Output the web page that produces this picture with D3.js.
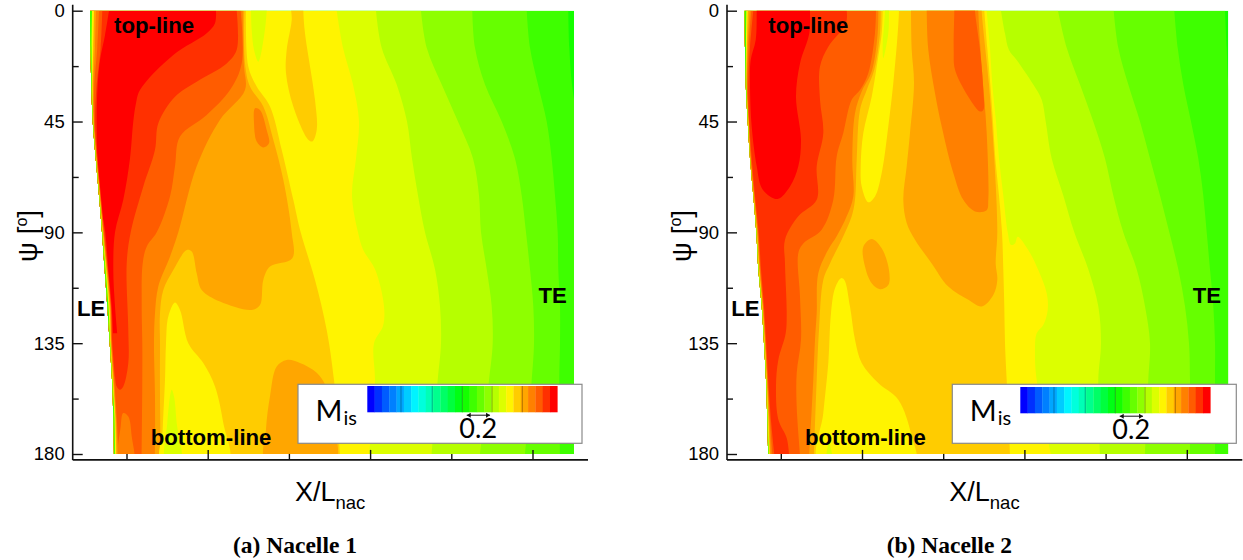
<!DOCTYPE html>
<html>
<head>
<meta charset="utf-8">
<script src="https://cdn.jsdelivr.net/npm/d3@7"></script>
<style>
  body { margin: 0; background: #fff; }
  text { font-family: "Liberation Sans", Arial, sans-serif; fill: #000; }
</style>
</head>
<body>
<div id="chart"></div>
<script>
// contour levels, hot to cool, then on down to blue for the colour bar
var levelColors = ["#ff0000", "#ff3000", "#ff5c00", "#ff8000", "#ffa600", "#ffcc00", "#fff400",
  "#dcff00", "#b6ff00", "#8eff00", "#66ff00", "#3eff00", "#14ff00",
  "#00ff14", "#00ff3e", "#00ff66", "#00ff8e", "#00ffb6", "#00ffdc", "#00f4ff",
  "#00ccff", "#00a6ff", "#0080ff", "#005cff", "#0030ff", "#0000ff"];
var barColors = levelColors.slice().reverse();
var barLines = [0.289, 0.557, 0.815, 1.07, 1.33];   // darker lines on the colour bar
var arrowSpan = [0.853, 1.053];                     // the 0.2 marker

var psiMajor = [0, 45, 90, 135, 180];
var psiMinor = [22.5, 67.5, 112.5, 157.5];
var xMajor = [117.7, 280.1, 442.5];
var xMinor = [36.5, 198.9, 361.3];

// all curves are [psi, x], x runs 0..484 along the nacelle
// ---------- Nacelle 1 ----------
var n1_le = [[0,0],[15,0.4],[30,1.3],[45,2.7],[60,5.7],[75,9],[90,12],[105,14.6],[120,17.3],[135,19.7],[150,22],[165,23.3],[180,24]];
var n1_b11 = [[0,478.3],[15,479.3],[30,482],[40,486],[60,500],[180,500]];
var n1_b10 = [[0,436.7],[15,440],[30,448],[45,456.7],[60,461.7],[75,465],[90,467.7],[105,468.3],[120,470],[135,470],[150,469.3],[180,470]];
var n1_b9 = [[0,382.3],[15,385],[30,395],[45,411.7],[60,425],[75,431.7],[90,436],[105,440],[120,443.3],[135,444],[150,441.7],[180,435]];
var n1_b8 = [[0,331],[15,336.7],[30,351.7],[45,368],[60,383],[75,389],[90,391],[105,396.7],[120,401.7],[135,402.7],[150,399],[180,390]];
var n1_b7 = [[0,286],[15,291.7],[30,306.7],[45,317],[60,322],[75,328],[90,335],[105,345],[120,350],[135,351],[150,347.7],[180,341.7]];
var n1_b6 = [[0,246.7],[15,253],[30,263],[45,269],[60,266],[75,262],[90,268],[97,273],[105,285],[120,294],[128,293],[135,284],[150,285],[165,283],[180,279]];
var n1_b5 = [[0,156],[22.7,158.3],[30.8,166.7],[38.9,180],[56.5,191.7],[76.8,203.3],[90,210.7],[109.3,225],[129.6,236.7],[150,244],[180,250]];
var n1_b4 = [[0,154.3],[21.4,155],[30.8,160],[38.9,173.3],[52.4,183.3],[68.6,193.3],[90,201.7],[100.5,202.3],[103.9,180],[109.3,173.3],[119.5,170],[121.5,161.7],[118.1,130],[113.4,111.7],[106.6,106.7],[97.8,101.7],[97.2,96.7],[105.3,83.3],[113.4,73.3],[122.8,70],[135,70],[156.6,70],[180,70.7]];
var n1_b3 = [[0,152.7],[22.7,154],[32.2,155],[44.3,130],[63.2,106.7],[90,88.3],[99.9,80],[112,68.3],[122.8,65],[135,64],[156.6,65],[180,65]];
var n1_b2 = [[0,150.7],[21.4,151.7],[32.2,140],[42.3,116.7],[51.1,90],[63.2,85],[75.4,80],[90,66.7],[95.8,56.7],[102.6,52.7],[120,51.7],[135,52.3],[150,52.3],[180,51.7]];
var n1_b1 = [[0,146.7],[15.9,146.7],[21.4,136.7],[28.8,106.7],[34.9,85],[45.7,68.3],[56.5,65],[71.4,53.3],[90,40.7],[102.6,36.7],[129.6,38.3],[143.1,38.3],[152.6,33.3],[153.9,30],[152.6,26.7],[148.5,25]];
var n1_b0 = [[0,126],[5.1,125],[9.2,116.7],[18,83.3],[32.2,50],[37.6,46],[45,43.3],[60,40],[76.8,33.3],[90,25],[105,23.3],[120,25],[131,27.3]];
var n1_topLime = [[-4,161],[-4,176.7],[0,176.7],[10.5,174],[20.7,168.3],[15.9,164],[7.8,161.7],[0,161]];
var n1_topAmber = [[-4,201.7],[-4,213.3],[0,213.3],[9.2,215],[36.2,225],[48.4,226.7],[53.1,222.3],[52.4,218.3],[38.9,203.3],[25.4,196],[15.9,196.7],[3.8,201.7]];
var n1_midIsland = [[39.6,165],[40.3,170],[48.4,176.7],[53.8,179],[55.5,173.3],[53.1,166.7],[45.7,164]];
var n1_blob = [[141.8,196.7],[144.5,186.7],[156.6,180],[170,176],[183.6,176],[183.6,245],[165,242],[152.6,236],[147,226.7],[143,210]];
var n1_tongue = [[118.5,85],[124.2,78.3],[135,76],[149.9,75],[170,72.7],[183.6,71.7],[183.6,138.3],[167.4,133.3],[152.6,125],[143.1,113.3],[135,98.3],[121.5,90]];
var n1_tongueLime = [[153.9,81.7],[167.4,77.3],[183.6,76],[183.6,90.7],[167.4,86.7],[156.6,84]];
var n1_lowIsland = [[163.4,33.3],[164.8,38.3],[172.8,41.7],[183.6,43.3],[183.6,29.3],[168.8,30.7]];
var n1_s1 = [[0,19],[10,15],[20,10],[30,7.7],[45,6.7],[75,9.5],[90,15.3],[105,18.3],[120,21.7],[135,23.3],[145,24.5]];
var n1_s2 = [[0,12.3],[15,10.7],[30,6.7],[45,5],[60,7.5],[75,10.8],[90,14.3],[120,21],[135,22.3],[150,25],[165,27.3],[180,27.7]];
var n1_s3 = [[0,9],[15,7.3],[30,4.3],[45,4],[60,6.8],[75,10.2],[90,13.7],[120,20.7],[135,21.7],[150,24.3],[165,26.7],[180,28.7]];
var n1_s4 = [[0,6],[15,5],[30,3.3],[45,3.7],[60,6.5],[75,9.9],[90,13.3],[120,20.3],[135,21.3],[150,23.7],[165,26],[180,27.7]];
var n1_s5 = [[0,4],[15,3.3],[30,2.5],[45,3.4],[60,6.2],[75,9.6],[90,12.8],[120,19.5],[135,20.7],[150,23],[165,25.3],[180,26.3]];
var n1_s6 = [[0,2],[15,1.6],[30,1.9],[45,3.1],[60,6],[75,9.3],[90,12.4],[120,18.4],[135,20.2],[150,22.4],[165,24.4],[180,25]];

var n1Layers = [[11,n1_b11,"left"],[10,n1_b10,"left"],[9,n1_b9,"left"],[8,n1_b8,"left"],[7,n1_b7,"left"],[6,n1_b6,"left"],
  [7,n1_topLime,"loop"],[5,n1_topAmber,"loop"],[5,n1_b5,"left"],[4,n1_b4,"left"],[4,n1_blob,"loop"],
  [6,n1_tongue,"loop"],[7,n1_tongueLime,"loop"],[3,n1_midIsland,"loop"],
  [3,n1_b3,"left"],[2,n1_b2,"left"],[1,n1_b1,"left"],[0,n1_b0,"left"],[3,n1_lowIsland,"loop"],
  [1,n1_s1,"left"],[2,n1_s2,"left"],[3,n1_s3,"left"],[4,n1_s4,"left"],[6,n1_s5,"left"],[11,n1_s6,"left"]];

// ---------- Nacelle 2 ----------
var n2_le = [[0,0],[15,0.7],[30,1.4],[45,3.4],[60,5.7],[75,9],[90,12],[105,14],[120,17.4],[135,19.7],[150,21.7],[180,24]];
var n2_b11 = [[0,480.7],[15,482.4],[30,484],[40,488],[60,500],[180,500]];
var n2_b10 = [[0,430],[15,433.4],[30,439],[45,446.7],[60,454],[75,459],[90,462.4],[105,465.7],[120,469],[135,470.7],[150,470.7],[180,470.7]];
var n2_b9 = [[0,369.4],[15,374],[30,384],[45,395.7],[60,405.7],[75,415.7],[90,425],[105,434],[120,440.7],[135,444.7],[150,445.7],[180,445.7]];
var n2_b8 = [[0,313.7],[15,322.4],[30,335.7],[45,349],[60,360.7],[75,369],[90,379],[105,392.4],[120,400.7],[135,405.7],[150,404],[180,400.7]];
var n2_b7 = [[0,256.7],[9.2,260.7],[16,264.7],[20,272.4],[30,289],[36.2,297.4],[45,301.4],[60,307.4],[75,319],[90,330],[105,344],[120,354],[135,356.7],[150,354],[180,355.7]];
var n2_b6 = [[0,242.4],[15,245.7],[30,248],[45,251.7],[60,254.7],[75,259],[90,263.4],[95.1,266.7],[94.5,270.7],[91.8,273.4],[97.2,284],[105.3,294],[114.7,302.4],[121.5,303.4],[127.6,299],[131,292.4],[139,290.7],[150,292.4],[180,306.7]];
var n2_b5 = [[0,240],[15,243],[30,246],[45,248.7],[60,251],[75,254.7],[90,257.7],[105,259],[120,260],[135,260.7],[150,262.4],[180,265.7]];
var n2_b4 = [[0,136.4],[9.2,135.7],[24,130],[32.2,122.4],[40.3,115.7],[60.5,112.4],[76.8,110.7],[83.5,107.4],[91.6,99],[102.6,85.7],[109.3,79],[129.6,74.7],[149.9,72.4],[180,69.7]];
var n2_b3 = [[0,134],[9.2,133.4],[24.7,127.4],[32.8,117.4],[41.6,110.7],[60.5,108],[75.4,109],[83.5,102.4],[91.6,92.4],[97,84],[106.6,74],[122.8,72.4],[133.6,70.7],[149.9,69],[180,65]];
var n2_b2 = [[0,131.7],[9.2,130.7],[25.4,124],[32.2,115.7],[36.2,107.4],[49.7,99],[59.2,92.4],[76.8,89],[88.9,77.4],[94.5,59],[98.5,54],[116,55.7],[133.6,56.7],[147.2,52.4],[160.7,52.4],[180,55.7]];
var n2_b1 = [[0,102.4],[5.1,101.7],[14.6,84],[22.7,75.7],[36.2,75.7],[49.7,79],[63.2,72.4],[76.8,72.4],[83.5,54],[93,40.7],[102.6,40.7],[122.8,42.4],[131,41.4],[141.8,34],[152.6,31.7],[166,34],[173.5,42.4],[180,44.7]];
var n2_red = [[-4,12.4],[-4,65.7],[0,65.7],[9.2,65],[21.4,55.7],[34.9,51.7],[52.4,56.7],[63.2,54],[71.4,45.7],[76.4,34],[75.4,25.7],[72,17.4],[63.2,12.4],[47,7.4],[29.5,5.7],[20,6.4],[11.9,11.4],[0,12.4]];
var n2_bigTongue = [[-4,166.7],[0,166.7],[15.9,167.4],[29.5,169.7],[49.7,165.7],[63.2,162.4],[76.8,159],[86.2,162.4],[93,170.7],[102.6,187.4],[112,204],[117.4,224],[120.1,237.4],[115.4,249],[109.3,253],[102.6,251.4],[90,253],[60,250],[30,244.7],[0,237.4],[-4,237.4]];
var n2_tongue3 = [[-4,182.4],[0,182.4],[15.9,184],[33.5,190.7],[47,197.4],[65.9,209],[76.8,219],[81.5,230.7],[81,242.4],[76.8,244],[49.7,242.4],[22.7,237.4],[0,234],[-4,234]];
var n2_tongue2 = [[-4,210],[0,210],[15.9,209.4],[24,210.7],[34.9,224],[40.9,235.7],[40.3,239],[32.2,239],[15.9,235.7],[0,230.7],[-4,230.7]];
var n2_yellowIsland = [[-4,138.4],[-4,154.7],[0,154.7],[9.2,153.4],[29.5,149],[47,144],[65.9,137.4],[75.4,130.7],[77.8,124],[71.4,117.4],[63.2,116.4],[49.7,119],[34.9,127.4],[18.6,134],[9.2,137.4],[0,138.4]];
var n2_topLime = [[-4,140.7],[-4,144.7],[0,144.7],[9.2,144],[19.3,139],[13.2,138.4],[6.5,139.7],[0,140.7]];
var n2_midIsland = [[92.7,127.4],[96.5,137.4],[105.3,144.7],[111.4,144],[113.1,135.7],[110.7,127.4],[103.9,120.7],[95.8,119]];
var n2_tongue = [[108.6,96.7],[112.7,90.7],[122.8,86.7],[143,84],[163.4,79],[183.6,74.7],[183.6,170.7],[172.8,167.4],[158,154],[151.2,134],[143,117.4],[133.6,110.7],[120.1,105.7],[109.3,100]];
var n2_tongueLime = [[175.5,84.7],[183.6,82.4],[183.6,88]];
var n2_s2 = [[0,9],[15,5.7],[30,4],[45,4.9],[60,7.4],[75,10.7],[90,14.4],[105,16.7],[120,19.7],[135,22],[150,24],[165,26.4],[180,30]];
var n2_s3 = [[0,7],[15,4.3],[30,3],[45,4.5],[60,6.5],[75,10],[90,13.7],[105,16],[120,19],[135,21.3],[150,23.3],[165,25.5],[180,28]];
var n2_s4 = [[0,5.5],[15,3.3],[30,2.5],[45,4.2],[60,6.2],[75,9.7],[90,13.2],[105,15.4],[120,18.6],[135,20.9],[150,22.9],[165,24.8],[180,26.4]];
var n2_s5 = [[0,3.5],[15,2.6],[30,2.2],[45,4],[60,5.9],[75,9.3],[90,12.6],[105,14.8],[120,18.1],[135,20.4],[150,22.4],[165,24],[180,25.5]];
var n2_s6 = [[0,2],[15,1.8],[30,2],[45,3.7],[60,5.8],[75,9.1],[90,12.3],[105,14.3],[120,17.7],[135,20],[150,22],[165,23.3],[180,24.6]];

var n2Layers = [[11,n2_b11,"left"],[10,n2_b10,"left"],[9,n2_b9,"left"],[8,n2_b8,"left"],[7,n2_b7,"left"],[6,n2_b6,"left"],
  [5,n2_b5,"left"],[4,n2_bigTongue,"loop"],[3,n2_tongue3,"loop"],[2,n2_tongue2,"loop"],
  [4,n2_b4,"left"],[6,n2_yellowIsland,"loop"],[7,n2_topLime,"loop"],[4,n2_midIsland,"loop"],
  [6,n2_tongue,"loop"],[7,n2_tongueLime,"loop"],
  [3,n2_b3,"left"],[2,n2_b2,"left"],[1,n2_b1,"left"],[0,n2_red,"loop"],
  [2,n2_s2,"left"],[3,n2_s3,"left"],[4,n2_s4,"left"],[6,n2_s5,"left"],[11,n2_s6,"left"]];

var width = 1243, height = 560;

var svg = d3.select("#chart").append("svg")
    .attr("width", width)
    .attr("height", height);

var x = d3.scaleLinear().domain([0, 484]).range([0, 484]);
var y = d3.scaleLinear().domain([0, 180]).range([10.7, 454]);
var mis = d3.scaleLinear().domain([0, 1.63]).range([0, 190]);
var band = d3.scaleBand().domain(d3.range(barColors.length)).range([0, 190]);

var openLine = d3.line().x(function(d) { return x(d[1]); }).y(function(d) { return y(d[0]); }).curve(d3.curveCatmullRom);
var loopLine = d3.line().x(function(d) { return x(d[1]); }).y(function(d) { return y(d[0]); }).curve(d3.curveCatmullRomClosed);

// everything left of a boundary curve, the clip trims it to the nacelle
function leftOf(pts) {
  var a = pts[0], b = pts[pts.length - 1];
  return openLine(pts) + "L" + x(-60) + "," + y(b[0]) + "L" + x(-60) + "," + y(a[0]) + "Z";
}

function drawPanel(id, left, le, layers, letter, name, barLeft, barTop) {
  var g = svg.append("g").attr("transform", "translate(" + left + ",0)");

  // domain shape: leading edge curve down, straight trailing edge back up
  g.append("clipPath").attr("id", "clip" + id).append("path")
    .attr("d", openLine(le) + "L" + x(484) + "," + y(180) + "L" + x(484) + "," + y(0) + "Z");

  var field = g.append("g").attr("clip-path", "url(#clip" + id + ")");
  field.append("rect")
    .attr("x", x(-60)).attr("y", y(0))
    .attr("width", x(600)).attr("height", y(180) - y(0))
    .attr("fill", levelColors[12]);

  field.selectAll("path.band")
    .data(layers)
    .enter()
    .append("path")
    .attr("class", "band")
    .attr("fill", function(d) { return levelColors[d[0]]; })
    .attr("d", function(d) { return d[2] == "left" ? leftOf(d[1]) : loopLine(d[1]); });

  // axes
  var spineX = x(-17.3), spineY = y(182.4);
  var yAxis = d3.axisLeft(y).tickValues(psiMajor).tickSize(-10).tickSizeOuter(0).tickPadding(8);
  var yAxisMinor = d3.axisLeft(y).tickValues(psiMinor).tickSize(-6).tickSizeOuter(0).tickFormat("");
  var xAxis = d3.axisBottom(x).tickValues(xMajor).tickSize(-10).tickSizeOuter(0).tickFormat("");
  var xAxisMinor = d3.axisBottom(x).tickValues(xMinor).tickSize(-6).tickSizeOuter(0).tickFormat("");

  [yAxis, yAxisMinor].forEach(function(a) {
    var ag = g.append("g").attr("transform", "translate(" + spineX + ",0)").call(a);
    ag.select(".domain").remove();
    ag.selectAll("line").attr("stroke", "#111").attr("stroke-width", 1.4);
    ag.selectAll("text").attr("font-size", 18.5)
      .style("font-family", '"Liberation Sans", Arial, sans-serif');
  });
  [xAxis, xAxisMinor].forEach(function(a) {
    var ag = g.append("g").attr("transform", "translate(0," + spineY + ")").call(a);
    ag.select(".domain").remove();
    ag.selectAll("line").attr("stroke", "#111").attr("stroke-width", 1.4);
  });

  g.append("line").attr("x1", spineX).attr("x2", spineX).attr("y1", y(-2.4)).attr("y2", spineY)
    .attr("stroke", "#111").attr("stroke-width", 1.6);
  g.append("line").attr("x1", spineX).attr("x2", x(498)).attr("y1", spineY).attr("y2", spineY)
    .attr("stroke", "#111").attr("stroke-width", 1.6);

  // axis titles
  var yt = g.append("text")
    .attr("transform", "translate(-53,236) rotate(-90)")
    .attr("text-anchor", "middle")
    .attr("font-size", 28);
  yt.append("tspan").text("\u03c8 [");
  yt.append("tspan").attr("dy", -10).attr("font-size", 16).text("o");
  yt.append("tspan").attr("dy", 10).text("]");

  var xt = g.append("text").attr("x", 205).attr("y", 501).attr("font-size", 27);
  xt.append("tspan").text("X/L");
  xt.append("tspan").attr("dy", 8).attr("font-size", 18.5).text("nac");

  g.append("text")
    .attr("x", 205).attr("y", 553)
    .attr("text-anchor", "middle")
    .attr("font-size", 23.5)
    .attr("font-weight", "bold")
    .style("font-family", '"Liberation Serif", serif')
    .text("(" + letter + ") " + name);

  // annotations
  var notes = [["top-line", 24, 32.5], ["LE", -13, 316], ["TE", 448.5, 302.7], ["bottom-line", 60.7, 445]];
  g.selectAll("text.note")
    .data(notes)
    .enter()
    .append("text")
    .attr("class", "note")
    .attr("x", function(d) { return d[1]; })
    .attr("y", function(d) { return d[2]; })
    .attr("font-size", 22.2)
    .attr("font-weight", "bold")
    .text(function(d) { return d[0]; });

  // legend
  g.append("rect")
    .attr("x", x(208)).attr("y", 384.3)
    .attr("width", x(492) - x(208)).attr("height", 59)
    .attr("fill", "#fff").attr("stroke", "#8a8a8a").attr("stroke-width", 1.2);

  var bar = g.append("g").attr("transform", "translate(" + barLeft + "," + barTop + ")");
  bar.selectAll("rect")
    .data(barColors)
    .enter()
    .append("rect")
    .attr("x", function(d, i) { return band(i); })
    .attr("y", 0)
    .attr("width", band.bandwidth() + 0.3)
    .attr("height", 26.3)
    .attr("fill", function(d) { return d; });
  bar.selectAll("line")
    .data(barLines)
    .enter()
    .append("line")
    .attr("x1", function(d) { return mis(d); })
    .attr("x2", function(d) { return mis(d); })
    .attr("y1", 0).attr("y2", 26.3)
    .attr("stroke", "#000").attr("stroke-opacity", 0.3);

  // double arrow, 0.2 long on the bar's scale
  var ay = 29.2, a0 = mis(arrowSpan[0]), a1 = mis(arrowSpan[1]);
  bar.append("line").attr("x1", a0).attr("x2", a1).attr("y1", ay).attr("y2", ay)
    .attr("stroke", "#111").attr("stroke-width", 1);
  bar.append("path")
    .attr("d", "M" + a0 + "," + ay + "l4,-2.5v5Z" + "M" + a1 + "," + ay + "l-4,-2.5v5Z")
    .attr("fill", "#111");
  bar.append("text")
    .attr("x", mis(arrowSpan[0]) + 11.5).attr("y", 52)
    .attr("text-anchor", "middle")
    .attr("font-size", 27)
    .style("font-family", "Lato, sans-serif")
    .text("0.2");

  var mt = g.append("text").attr("x", 225.5).attr("y", 421)
    .style("font-family", "Lato, sans-serif")
    .attr("font-size", 29);
  mt.append("tspan").text("M");
  mt.append("tspan").attr("dy", 4).attr("dx", 1).attr("font-size", 20).text("is");
}

drawPanel(1, 90, n1_le, n1Layers, "a", "Nacelle 1", 277.3, 386);
drawPanel(2, 744.3, n2_le, n2Layers, "b", "Nacelle 2", 276, 387);
</script>
</body>
</html>
